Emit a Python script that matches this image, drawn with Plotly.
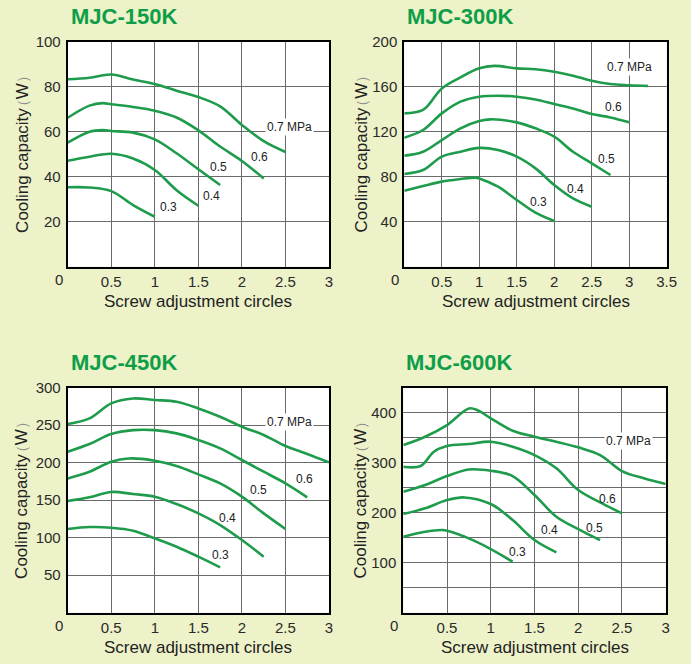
import plotly.graph_objects as go

W, H = 691, 664
GREEN = "#1e9c4c"
TITLE_GREEN = "#0f9e48"
BG = "#edf2c9"
GRID = "#6a6a6a"
FONT = "Liberation Sans, Arial, Helvetica, sans-serif"

pressures = ["0.3", "0.4", "0.5", "0.6", "0.7"]

# ---- MJC-150K ----
c150_x = {
    "0.3": [0, 0.25, 0.5, 0.75, 1.0],
    "0.4": [0, 0.25, 0.5, 0.75, 1.0, 1.25, 1.5],
    "0.5": [0, 0.25, 0.4, 0.5, 0.75, 1.0, 1.25, 1.5, 1.75],
    "0.6": [0, 0.25, 0.4, 0.5, 0.75, 1.0, 1.25, 1.5, 1.75, 2.0, 2.25],
    "0.7": [0, 0.25, 0.5, 0.75, 1.0, 1.25, 1.5, 1.75, 2.0, 2.25, 2.5],
}
c150_y = {
    "0.3": [35.3, 35.2, 33.6, 27.4, 22.2],
    "0.4": [47.1, 48.9, 50.2, 48.1, 43.0, 34.0, 27.1],
    "0.5": [55.1, 60.0, 60.7, 60.3, 59.6, 56.6, 50.4, 43.3, 36.3],
    "0.6": [66.2, 71.6, 72.7, 72.2, 71.0, 69.3, 66.3, 60.6, 53.4, 47.0, 39.2],
    "0.7": [83.3, 84.0, 85.4, 83.2, 81.2, 78.2, 75.4, 71.3, 63.0, 55.8, 51.0],
}
c150_lbl_x = [1.16, 1.65, 1.73, 2.2, 2.55]
c150_lbl_y = [26.4, 31.4, 44.4, 48.9, 62.2]

# ---- MJC-300K ----
c300_x = {
    "0.3": [0, 0.25, 0.5, 0.75, 0.95, 1.0, 1.25, 1.5, 1.75, 2.0],
    "0.4": [0, 0.25, 0.5, 0.75, 1.0, 1.25, 1.5, 1.75, 2.0, 2.25, 2.5],
    "0.5": [0, 0.25, 0.5, 0.75, 1.0, 1.15, 1.5, 1.75, 2.0, 2.25, 2.5, 2.75],
    "0.6": [0, 0.25, 0.5, 0.75, 1.0, 1.25, 1.5, 1.75, 2.0, 2.25, 2.5, 2.75, 3.0],
    "0.7": [0, 0.25, 0.5, 0.75, 1.0, 1.2, 1.5, 1.75, 2.0, 2.25, 2.5, 2.75, 3.0, 3.25],
}
c300_y = {
    "0.3": [67.6, 71.7, 75.6, 77.9, 79.2, 78.5, 71.1, 59.3, 48.0, 40.6],
    "0.4": [82.4, 85.9, 97.8, 102.2, 105.6, 103.7, 97.8, 87.4, 72.6, 60.7, 53.3],
    "0.5": [98.7, 102.2, 112.6, 123.0, 129.5, 131.0, 128.3, 123.0, 115.6, 102.2, 91.9, 81.5],
    "0.6": [114.7, 121.5, 136.3, 146.7, 151.1, 152.0, 151.1, 148.7, 144.6, 140.7, 135.7, 132.7, 128.3],
    "0.7": [136.3, 139.3, 158.5, 168.3, 176.3, 178.5, 176.3, 175.5, 173.3, 169.8, 165.3, 162.4, 161.3, 160.6],
}
c300_lbl_x = [1.79, 2.29, 2.70, 2.79, 3.01]
c300_lbl_y = [57.2, 69.0, 95.4, 141.6, 177.8]

# ---- MJC-450K ----
c450_x = {
    "0.3": [0, 0.25, 0.5, 0.75, 1.0, 1.25, 1.5, 1.75],
    "0.4": [0, 0.25, 0.5, 0.75, 1.0, 1.25, 1.5, 1.75, 2.0, 2.25],
    "0.5": [0, 0.25, 0.5, 0.7, 1.0, 1.25, 1.5, 1.75, 2.0, 2.25, 2.5],
    "0.6": [0, 0.25, 0.5, 0.75, 1.0, 1.25, 1.5, 1.75, 2.0, 2.25, 2.5, 2.75],
    "0.7": [0, 0.25, 0.5, 0.75, 1.0, 1.25, 1.5, 1.75, 2.0, 2.25, 2.5, 2.75, 3.0],
}
c450_y = {
    "0.3": [111.6, 114.2, 113.3, 109.3, 99.1, 88.0, 74.7, 60.4],
    "0.4": [148.9, 153.8, 161.0, 158.2, 154.7, 144.9, 132.4, 116.9, 96.9, 74.7],
    "0.5": [179.1, 188.0, 201.3, 205.6, 202.7, 195.6, 184.4, 172.4, 154.7, 132.4, 111.6],
    "0.6": [214.7, 224.9, 238.2, 243.4, 243.4, 239.1, 230.2, 219.1, 203.6, 188.0, 172.4, 153.8],
    "0.7": [251.6, 259.1, 279.1, 285.6, 283.6, 281.3, 272.4, 261.3, 248.0, 236.9, 222.2, 211.6, 200.4],
}
c450_lbl_x = [1.75, 1.84, 2.19, 2.72, 2.55]
c450_lbl_y = [76.9, 126.7, 163.6, 177.8, 253.8]

# ---- MJC-600K ----
c600_x = {
    "0.3": [0, 0.25, 0.45, 0.5, 0.75, 1.0, 1.25],
    "0.4": [0, 0.25, 0.5, 0.7, 1.0, 1.25, 1.5, 1.75],
    "0.5": [0, 0.25, 0.5, 0.75, 1.0, 1.25, 1.5, 1.75, 2.0, 2.25],
    "0.6": [0, 0.2, 0.35, 0.5, 0.75, 1.0, 1.25, 1.5, 1.75, 2.0, 2.25, 2.5],
    "0.7": [0, 0.25, 0.5, 0.75, 0.85, 1.0, 1.25, 1.5, 1.75, 2.0, 2.25, 2.5, 2.75, 3.0],
}
c600_y = {
    "0.3": [152.0, 162.0, 165.3, 164.0, 148.7, 127.3, 102.0],
    "0.4": [197.3, 208.7, 225.3, 230.5, 217.3, 185.3, 145.3, 120.7],
    "0.5": [242.0, 255.3, 273.3, 286.5, 284.0, 273.3, 235.3, 192.0, 167.3, 145.3],
    "0.6": [292.0, 293.3, 322.0, 333.3, 337.3, 342.0, 332.0, 315.3, 288.7, 245.3, 220.7, 198.7],
    "0.7": [335.3, 352.0, 375.3, 408.5, 405.0, 388.7, 364.0, 352.0, 342.0, 330.7, 315.3, 283.3, 268.7, 257.3],
}
c600_lbl_x = [1.30, 1.67, 2.19, 2.33, 2.57]
c600_lbl_y = [122.0, 165.3, 168.7, 226.7, 344.0]

titles = ["MJC-150K", "MJC-300K", "MJC-450K", "MJC-600K"]
x_max = [3, 3.5, 3, 3]
y_max = [100, 200, 300, 450]
y_ticks = [[20, 40, 60, 80, 100], [40, 80, 120, 160, 200],
           [50, 100, 150, 200, 250, 300], [100, 200, 300, 400]]
y_minor = [None, None, None, [50, 150, 250, 350]]
x_ticks = [[0.5, 1, 1.5, 2, 2.5, 3], [0.5, 1, 1.5, 2, 2.5, 3, 3.5],
           [0.5, 1, 1.5, 2, 2.5, 3], [0.5, 1, 1.5, 2, 2.5, 3]]

charts = [
    (c150_x, c150_y, c150_lbl_x, c150_lbl_y),
    (c300_x, c300_y, c300_lbl_x, c300_lbl_y),
    (c450_x, c450_y, c450_lbl_x, c450_lbl_y),
    (c600_x, c600_y, c600_lbl_x, c600_lbl_y),
]

# pixel boxes of plot areas: left, right, top, bottom
boxes = [(67.7, 329.0, 41.7, 266.7), (404.3, 666.7, 41.7, 266.7),
         (67.7, 329.0, 387.7, 612.7), (403.3, 665.7, 387.7, 612.7)]

def px(x):
    return x / W

def py(y):
    return 1 - y / H

fig = go.Figure()
layout = dict(
    width=W, height=H,
    margin=dict(l=0, r=0, t=0, b=0, pad=0, autoexpand=False),
    paper_bgcolor=BG, plot_bgcolor="white",
    showlegend=False,
    font=dict(family=FONT, color="#2a2a2a"),
)
annotations = []

PAREN = "font-size:15px;color:#8a8a8a"
YTITLE = (f"Cooling capacit<span style='letter-spacing:-6px'>y</span>"
          f"<span style='{PAREN}'>（</span>W<span style='{PAREN}'>）</span>")

for i, (cx, cy, lx, ly) in enumerate(charts):
    n = i + 1
    xa = "x" if n == 1 else f"x{n}"
    ya = "y" if n == 1 else f"y{n}"
    for p in pressures:
        fig.add_trace(go.Scatter(
            x=cx[p], y=cy[p], mode="lines", xaxis=xa, yaxis=ya,
            line=dict(color=GREEN, width=2.6, shape="spline", smoothing=1.0),
            hoverinfo="skip",
        ))
    l, r, t, b = boxes[i]
    xaxis = dict(
        domain=[px(l), px(r)], range=[0, x_max[i]], anchor=ya,
        tickvals=x_ticks[i], ticktext=[f"{v:g}" for v in x_ticks[i]],
        showgrid=True, gridcolor=GRID, gridwidth=1,
        showline=True, linecolor="black", linewidth=2, mirror=True,
        zeroline=False, ticks="",
        tickfont=dict(size=15, color="#2a2a2a"),
        automargin=False, fixedrange=True,
    )
    yaxis = dict(
        domain=[py(b), py(t)], range=[0, y_max[i]], anchor=xa,
        tickvals=y_ticks[i],
        showgrid=True, gridcolor=GRID, gridwidth=1,
        showline=True, linecolor="black", linewidth=2, mirror=True,
        zeroline=False, ticks="outside", ticklen=2, tickcolor="rgba(0,0,0,0)",
        tickfont=dict(size=15, color="#2a2a2a"),
        automargin=False, fixedrange=True,
    )
    if y_minor[i]:
        yaxis["minor"] = dict(tickvals=y_minor[i], showgrid=True,
                              gridcolor=GRID, gridwidth=1, ticks="")
    layout["xaxis" if n == 1 else f"xaxis{n}"] = xaxis
    layout["yaxis" if n == 1 else f"yaxis{n}"] = yaxis

    # origin "0" tick label (sits left of the corner)
    annotations.append(dict(
        x=0, y=0, xref=xa, yref=ya, text="0", showarrow=False,
        xanchor="center", yanchor="top", xshift=-9, yshift=-2,
        font=dict(size=15, color="#2a2a2a"),
    ))
    # pressure labels
    for j, p in enumerate(pressures):
        txt = "0.7 MPa" if p == "0.7" else p
        annotations.append(dict(
            x=lx[j], y=ly[j], xref=xa, yref=ya, text=txt, showarrow=False,
            xanchor="center", yanchor="middle",
            bgcolor="white" if p == "0.7" else "rgba(0,0,0,0)",
            borderpad=1,
            font=dict(size=12, color="#222"),
        ))
    # chart title
    annotations.append(dict(
        x=px(l + 1), y=py(t - 25), xref="paper", yref="paper",
        text=f"<b>{titles[i]}</b>", showarrow=False,
        xanchor="left", yanchor="middle",
        font=dict(size=22, color=TITLE_GREEN),
    ))
    # axis titles
    annotations.append(dict(
        x=px((l + r) / 2), y=py(b + 35), xref="paper", yref="paper",
        text="Screw adjustment circles", showarrow=False,
        xanchor="center", yanchor="middle",
        font=dict(size=17, color="#222"),
    ))
    annotations.append(dict(
        x=px(l - (46 if i in (0, 2) else 43)), y=py((t + b) / 2 - 4),
        xref="paper", yref="paper",
        text=YTITLE,
        showarrow=False, textangle=-90,
        xanchor="center", yanchor="middle",
        font=dict(size=17, color="#222"),
    ))

layout["annotations"] = annotations
fig.update_layout(**layout)
fig.write_html(
    "out.html",
    config={"displayModeBar": False},
    post_script="document.body.style.margin='0';document.body.style.overflow='hidden';"
                "document.body.style.background='" + BG + "';",
)
